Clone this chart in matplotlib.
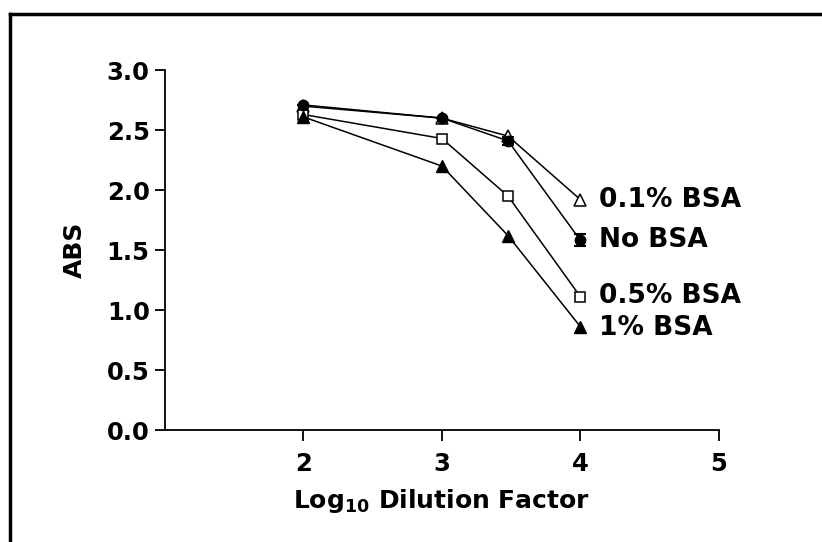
import matplotlib
matplotlib.use("Agg")
import matplotlib.pyplot as plt
from matplotlib.lines import Line2D
from matplotlib.ticker import FormatStrFormatter

plt.rcParams["font.family"] = ["DejaVu Sans"]
plt.rcParams["font.weight"] = "bold"
plt.rcParams["mathtext.fontset"] = "custom"
plt.rcParams["mathtext.rm"] = "DejaVu Sans:bold"
plt.rcParams["mathtext.it"] = "DejaVu Sans:bold"
plt.rcParams["mathtext.bf"] = "DejaVu Sans:bold"

# log10 dilution factor
dilution = [2.0, 3.0, 3.477, 4.0]

no_bsa = [2.71, 2.60, 2.41, 1.58]
no_bsa_err = [0.0, 0.0, 0.03, 0.05]
bsa_01 = [2.70, 2.60, 2.45, 1.92]
bsa_05 = [2.63, 2.43, 1.95, 1.11]
bsa_1 = [2.61, 2.20, 1.62, 0.86]

labels = ["0.1% BSA", "No BSA", "0.5% BSA", "1% BSA"]
label_y = [1.92, 1.58, 1.12, 0.85]

fig = plt.figure(figsize=(8.22, 5.42), dpi=100)
ax = fig.add_axes([0.2007, 0.2066, 0.674, 0.664])

lw = 1.1
ax.errorbar(dilution, no_bsa, yerr=no_bsa_err, color="black", lw=lw,
            marker="o", ms=7.5, mfc="black", mec="black", capsize=4, capthick=1.5,
            zorder=3)
ax.plot(dilution, bsa_01, color="black", lw=lw, marker="^", ms=8.5,
        mfc="white", mec="black", mew=1.1, zorder=3)
ax.plot(dilution, bsa_05, color="black", lw=lw, marker="s", ms=7.5,
        mfc="white", mec="black", mew=1.1, zorder=3)
ax.plot(dilution, bsa_1, color="black", lw=lw, marker="^", ms=8.5,
        mfc="black", mec="black", zorder=3)

for lab, yy in zip(labels, label_y):
    ax.text(4.13, yy, lab, fontsize=19, fontweight="bold", va="center",
            ha="left", clip_on=False)

ax.set_xlim(1, 5)
ax.set_ylim(0, 3.0)
ax.set_xticks([2, 3, 4, 5])
ax.set_yticks([0.0, 0.5, 1.0, 1.5, 2.0, 2.5, 3.0])
ax.yaxis.set_major_formatter(FormatStrFormatter("%.1f"))
ax.tick_params(axis="y", direction="out", length=7, width=1.3, labelsize=17.5, pad=4)
ax.tick_params(axis="x", direction="out", length=8, width=1.3, labelsize=17.5, pad=8)
for lbl in ax.get_xticklabels() + ax.get_yticklabels():
    lbl.set_fontweight("bold")

for side in ["top", "right"]:
    ax.spines[side].set_visible(False)
for side in ["left", "bottom"]:
    ax.spines[side].set_linewidth(1.3)

ax.set_xlabel("Log$_{10}$ Dilution Factor", fontsize=18, fontweight="bold", labelpad=8)
ax.set_ylabel("ABS", fontsize=18, fontweight="bold", labelpad=14)

# frame around the figure (left and top edges visible)
fig.add_artist(Line2D([10 / 822, 10 / 822], [0, 1 - 14 / 542], transform=fig.transFigure,
                      color="black", lw=2.5))
fig.add_artist(Line2D([10 / 822, 1], [1 - 14 / 542, 1 - 14 / 542], transform=fig.transFigure,
                      color="black", lw=2.5))

fig.savefig("out.png", dpi=100)
